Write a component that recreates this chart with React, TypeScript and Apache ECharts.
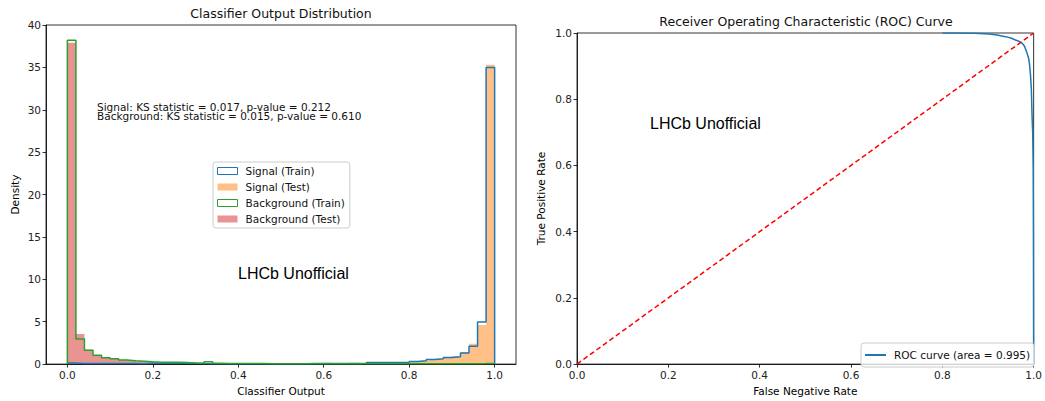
import React, { useEffect, useRef } from "react";
import * as echarts from "echarts";

// ---------- Data ----------
const binWidth = 0.02;
const nBins = 50;
const edges: number[] = Array.from({ length: nBins + 1 }, (_, i) => +(i * binWidth).toFixed(2));

const signalTrain = [
  0.12, 0.08, 0.07, 0.06, 0.08, 0.08, 0.07, 0.08, 0.05, 0.1,
  0.1, 0.1, 0.1, 0.1, 0.1, 0.06, 0.05, 0.05, 0.04, 0.04,
  0.04, 0.04, 0.04, 0.04, 0.04, 0.05, 0.05, 0.05, 0.06, 0.06,
  0.06, 0.07, 0.07, 0.08, 0.09, 0.2, 0.2, 0.2, 0.2, 0.21,
  0.31, 0.39, 0.54, 0.62, 0.78, 0.86, 1.32, 2.1, 4.97, 35.0,
];
const signalTest = [
  0.1, 0.08, 0.07, 0.06, 0.06, 0.06, 0.05, 0.05, 0.06, 0.08,
  0.08, 0.08, 0.07, 0.06, 0.05, 0.05, 0.05, 0.04, 0.04, 0.04,
  0.04, 0.04, 0.04, 0.04, 0.04, 0.04, 0.05, 0.05, 0.05, 0.05,
  0.15, 0.06, 0.06, 0.15, 0.08, 0.18, 0.18, 0.19, 0.2, 0.22,
  0.35, 0.42, 0.5, 0.62, 0.78, 0.93, 1.4, 2.4, 4.6, 35.3,
];
const backgroundTrain = [
  38.2, 2.96, 1.63, 1.05, 0.74, 0.64, 0.47, 0.39, 0.35, 0.27,
  0.23, 0.23, 0.22, 0.2, 0.12, 0.1, 0.27, 0.1, 0.08, 0.07,
  0.06, 0.06, 0.06, 0.05, 0.05, 0.05, 0.05, 0.05, 0.05, 0.05,
  0.05, 0.05, 0.05, 0.05, 0.05, 0.05, 0.05, 0.05, 0.05, 0.05,
  0.05, 0.05, 0.05, 0.05, 0.05, 0.05, 0.05, 0.05, 0.06, 0.08,
];
const backgroundTest = [
  37.9, 3.54, 1.7, 1.0, 0.8, 0.7, 0.52, 0.42, 0.33, 0.26,
  0.2, 0.18, 0.17, 0.14, 0.12, 0.1, 0.1, 0.08, 0.07, 0.06,
  0.05, 0.05, 0.05, 0.05, 0.05, 0.04, 0.04, 0.04, 0.04, 0.04,
  0.04, 0.04, 0.04, 0.04, 0.04, 0.04, 0.04, 0.04, 0.04, 0.04,
  0.04, 0.04, 0.04, 0.04, 0.04, 0.04, 0.04, 0.05, 0.12, 0.08,
];

const rocFnr = [0.8, 0.836, 0.87, 0.902, 0.92, 0.938, 0.95, 0.96, 0.968, 0.975, 0.98, 0.983, 0.986, 0.989, 0.991, 0.993, 0.995, 0.996, 0.997, 0.998, 0.999, 0.9995, 1.0];
const rocTpr = [1.0, 1.0, 0.999, 0.997, 0.994, 0.989, 0.985, 0.979, 0.975, 0.969, 0.96, 0.949, 0.937, 0.924, 0.905, 0.875, 0.83, 0.775, 0.73, 0.696, 0.59, 0.4, 0.0];
const diagonalX = [0, 1];
const diagonalY = [0, 1];

const histTicks = [0, 0.2, 0.4, 0.6, 0.8, 1.0];
const ksSignalText = "Signal: KS statistic = 0.017, p-value = 0.212";
const ksBackgroundText = "Background: KS statistic = 0.015, p-value = 0.610";
const watermark = "LHCb Unofficial";
const rocLabel = "ROC curve (area = 0.995)";

// ---------- Helpers ----------
function stepPoints(vals: number[]): number[][] {
  const pts: number[][] = [[edges[0], 0]];
  vals.forEach((v, i) => {
    pts.push([edges[i], v]);
    pts.push([edges[i + 1], v]);
  });
  pts.push([edges[nBins], 0]);
  return pts;
}

const FONT = "DejaVu Sans";
const FS = 10.5;
const C_BLUE = "#1f77b4";
const C_ORANGE = "#ff7f0e";
const C_GREEN = "#2ca02c";
const C_RED = "#d62728";

export default function App() {
  const ref = useRef<HTMLDivElement>(null);
  useEffect(() => {
    if (!ref.current) return;
    const chart = echarts.init(ref.current, null, { renderer: "svg" });

    const axisCommon = {
      axisLine: { show: true, onZero: false, lineStyle: { color: "#000", width: 0.8 } },
      axisTick: { show: true, length: 3.5, lineStyle: { color: "#000", width: 0.8 } },
      splitLine: { show: false },
      nameTextStyle: { fontFamily: FONT, fontSize: FS, color: "#000" },
    };
    const labelCommon = { fontFamily: FONT, fontSize: FS, color: "#222", margin: 5 };
    const legendText = { fontFamily: FONT, fontSize: 10.5, color: "#111", lineHeight: 12, padding: [0, 0, 0, 3] };

    chart.setOption({
      animation: false,
      backgroundColor: "#fff",
      title: [
        {
          text: "Classifier Output Distribution",
          left: 281,
          top: 7,
          textAlign: "center",
          padding: 0,
          textStyle: { fontFamily: FONT, fontSize: 12.5, fontWeight: "normal", color: "#111" },
        },
        {
          text: "Receiver Operating Characteristic (ROC) Curve",
          left: 806,
          top: 15,
          textAlign: "center",
          padding: 0,
          textStyle: { fontFamily: FONT, fontSize: 12.5, fontWeight: "normal", color: "#111" },
        },
      ],
      grid: [
        { left: 46, top: 25, width: 470, height: 343, show: true, borderColor: "#000", borderWidth: 0.8, backgroundColor: "transparent" },
        { left: 577, top: 33, width: 459, height: 335, show: true, borderColor: "#000", borderWidth: 0.8, backgroundColor: "transparent" },
      ],
      xAxis: [
        {
          type: "value",
          gridIndex: 0,
          min: -0.05,
          max: 1.05,
          name: "Classifier Output",
          nameLocation: "middle",
          nameGap: 20,
          ...axisCommon,
          axisTick: { ...axisCommon.axisTick, customValues: histTicks },
          axisLabel: { ...labelCommon, customValues: histTicks, formatter: (v: number) => v.toFixed(1) },
        },
        {
          type: "value",
          gridIndex: 1,
          min: 0,
          max: 1,
          interval: 0.2,
          name: "False Negative Rate",
          nameLocation: "middle",
          nameGap: 20,
          ...axisCommon,
          axisLabel: { ...labelCommon, formatter: (v: number) => v.toFixed(1) },
        },
      ],
      yAxis: [
        {
          type: "value",
          gridIndex: 0,
          min: 0,
          max: 40,
          interval: 5,
          name: "Density",
          nameLocation: "middle",
          nameGap: 26,
          ...axisCommon,
          axisLabel: { ...labelCommon },
        },
        {
          type: "value",
          gridIndex: 1,
          min: 0,
          max: 1,
          interval: 0.2,
          name: "True Positive Rate",
          nameLocation: "middle",
          nameGap: 31,
          ...axisCommon,
          axisLabel: { ...labelCommon, formatter: (v: number) => v.toFixed(1) },
        },
      ],
      legend: [
        {
          left: 213,
          top: 162,
          orient: "vertical",
          itemWidth: 20,
          itemHeight: 7,
          itemGap: 4,
          padding: [3, 5, 3, 4],
          borderColor: "#ccc",
          borderWidth: 1,
          borderRadius: 3,
          backgroundColor: "rgba(255,255,255,0.8)",
          textStyle: legendText,
          data: [
            { name: "Signal (Train)", icon: "rect", itemStyle: { color: "#fff", borderColor: C_BLUE, borderWidth: 1 } },
            { name: "Signal (Test)", icon: "rect", itemStyle: { color: "rgba(255,127,14,0.5)", borderWidth: 0 } },
            { name: "Background (Train)", icon: "rect", itemStyle: { color: "#fff", borderColor: C_GREEN, borderWidth: 1 } },
            { name: "Background (Test)", icon: "rect", itemStyle: { color: "rgba(214,39,40,0.5)", borderWidth: 0 } },
          ],
        },
        {
          left: 861,
          top: 343,
          orient: "vertical",
          itemWidth: 21,
          itemHeight: 2,
          padding: [6, 4, 6, 4],
          borderColor: "#ccc",
          borderWidth: 1,
          borderRadius: 3,
          backgroundColor: "rgba(255,255,255,0.8)",
          textStyle: legendText,
          data: [{ name: rocLabel, icon: "rect", itemStyle: { color: C_BLUE, borderWidth: 0 } }],
        },
      ],
      graphic: [
        { type: "text", left: 97, top: 101, style: { text: ksSignalText, fontFamily: FONT, fontSize: FS, fill: "#111" }, z: 100 },
        { type: "text", left: 97, top: 110.5, style: { text: ksBackgroundText, fontFamily: FONT, fontSize: FS, fill: "#111" }, z: 100 },
        { type: "text", left: 238, top: 265, style: { text: watermark, fontFamily: "Liberation Sans", fontSize: 16, fill: "#000" }, z: 100 },
        { type: "text", left: 650, top: 115, style: { text: watermark, fontFamily: "Liberation Sans", fontSize: 16, fill: "#000" }, z: 100 },
      ],
      series: [
        {
          name: "Signal (Train)",
          type: "line",
          xAxisIndex: 0,
          yAxisIndex: 0,
          data: stepPoints(signalTrain),
          symbol: "none",
          lineStyle: { color: C_BLUE, width: 1.5 },
          itemStyle: { color: C_BLUE },
        },
        {
          name: "Signal (Test)",
          type: "line",
          xAxisIndex: 0,
          yAxisIndex: 0,
          data: stepPoints(signalTest),
          symbol: "none",
          lineStyle: { width: 0 },
          itemStyle: { color: C_ORANGE },
          areaStyle: { color: "rgba(255,127,14,0.5)", opacity: 1 },
        },
        {
          name: "Background (Train)",
          type: "line",
          xAxisIndex: 0,
          yAxisIndex: 0,
          data: stepPoints(backgroundTrain),
          symbol: "none",
          lineStyle: { color: C_GREEN, width: 1.5 },
          itemStyle: { color: C_GREEN },
        },
        {
          name: "Background (Test)",
          type: "line",
          xAxisIndex: 0,
          yAxisIndex: 0,
          data: stepPoints(backgroundTest),
          symbol: "none",
          lineStyle: { width: 0 },
          itemStyle: { color: C_RED },
          areaStyle: { color: "rgba(214,39,40,0.5)", opacity: 1 },
        },
        {
          name: rocLabel,
          type: "line",
          xAxisIndex: 1,
          yAxisIndex: 1,
          data: rocFnr.map((x, i) => [x, rocTpr[i]]),
          symbol: "none",
          smooth: false,
          lineStyle: { color: C_BLUE, width: 1.5 },
          itemStyle: { color: C_BLUE },
        },
        {
          name: "diagonal",
          type: "line",
          xAxisIndex: 1,
          yAxisIndex: 1,
          data: diagonalX.map((x, i) => [x, diagonalY[i]]),
          symbol: "none",
          lineStyle: { color: "#ff0000", width: 1.5, type: [5, 3] },
          itemStyle: { color: "#ff0000" },
        },
      ],
    });
    return () => chart.dispose();
  }, []);
  return <div ref={ref} style={{ position: "absolute", left: 0, top: 0, width: 1045, height: 401 }} />;
}
